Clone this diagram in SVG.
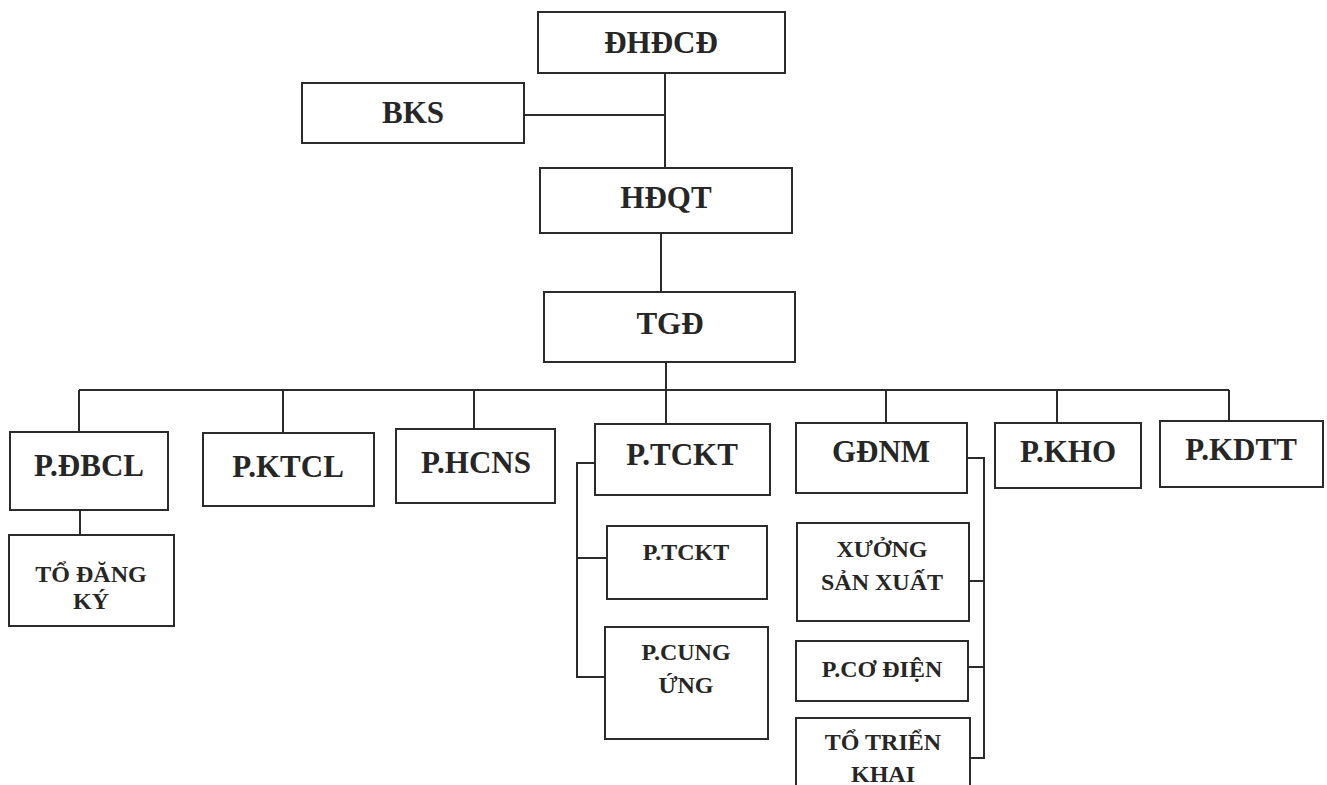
<svg xmlns="http://www.w3.org/2000/svg" width="1327" height="785" viewBox="0 0 1327 785">
<style>
.box{fill:#fff;stroke:#2b2b2b;stroke-width:2}
.ln{fill:none;stroke:#2b2b2b;stroke-width:2}
.t{font-family:"Liberation Serif","Times New Roman",serif;font-weight:bold;fill:#262626;text-anchor:middle}
.big{font-size:31px}
.sm{font-size:24px}
</style>
<rect width="1327" height="785" fill="#fff"/>
<g id="connectors">
<path class="ln" d="M665 73V168M524 115H665M661 233V292M666 362V390M79 390H1229M79 390V432M283 390V433M474 390V429M666 390V424M886 390V423M1057 390V423M1229 390V421M80 510V535"/>
<path class="ln" d="M595 463H577V677H605M577 558H607"/>
<path class="ln" d="M967 458H984V758H970M969 581H984M968 667H984"/>
</g>
<g id="dhdcd"><rect class="box" x="538" y="12" width="247" height="61"/><text class="t big" x="661" y="53">ĐHĐCĐ</text></g>
<g id="bks"><rect class="box" x="302" y="83" width="222" height="60"/><text class="t big" x="413" y="123">BKS</text></g>
<g id="hdqt"><rect class="box" x="540" y="168" width="252" height="65"/><text class="t big" x="666" y="208">HĐQT</text></g>
<g id="tgd"><rect class="box" x="544" y="292" width="251" height="70"/><text class="t big" x="670" y="334">TGĐ</text></g>
<g id="pdbcl"><rect class="box" x="10" y="432" width="158" height="78"/><text class="t big" x="89" y="476">P.ĐBCL</text></g>
<g id="todangky"><rect class="box" x="9" y="535" width="165" height="91"/><text class="t sm" x="91" y="582">TỔ ĐĂNG</text><text class="t sm" x="91" y="609">KÝ</text></g>
<g id="pktcl"><rect class="box" x="203" y="433" width="171" height="73"/><text class="t big" x="288" y="477">P.KTCL</text></g>
<g id="phcns"><rect class="box" x="396" y="429" width="159" height="74"/><text class="t big" x="476" y="473">P.HCNS</text></g>
<g id="ptckt"><rect class="box" x="595" y="424" width="175" height="71"/><text class="t big" x="682" y="465">P.TCKT</text></g>
<g id="ptckt2"><rect class="box" x="607" y="526" width="160" height="73"/><text class="t sm" x="686" y="560">P.TCKT</text></g>
<g id="pcungung"><rect class="box" x="605" y="627" width="163" height="112"/><text class="t sm" x="686" y="660">P.CUNG</text><text class="t sm" x="686" y="693">ỨNG</text></g>
<g id="gdnm"><rect class="box" x="796" y="423" width="171" height="70"/><text class="t big" x="881" y="462">GĐNM</text></g>
<g id="xuong"><rect class="box" x="797" y="523" width="172" height="98"/><text class="t sm" x="882" y="557">XƯỞNG</text><text class="t sm" x="882" y="590">SẢN XUẤT</text></g>
<g id="pcodien"><rect class="box" x="796" y="641" width="172" height="60"/><text class="t sm" x="882" y="677">P.CƠ ĐIỆN</text></g>
<g id="totrienkhai"><rect class="box" x="796" y="718" width="174" height="90"/><text class="t sm" x="883" y="750">TỔ TRIỂN</text><text class="t sm" x="883" y="782">KHAI</text></g>
<g id="pkho"><rect class="box" x="995" y="423" width="146" height="65"/><text class="t big" x="1068" y="462">P.KHO</text></g>
<g id="pkdtt"><rect class="box" x="1160" y="421" width="163" height="66"/><text class="t big" x="1241" y="460">P.KDTT</text></g>
</svg>
